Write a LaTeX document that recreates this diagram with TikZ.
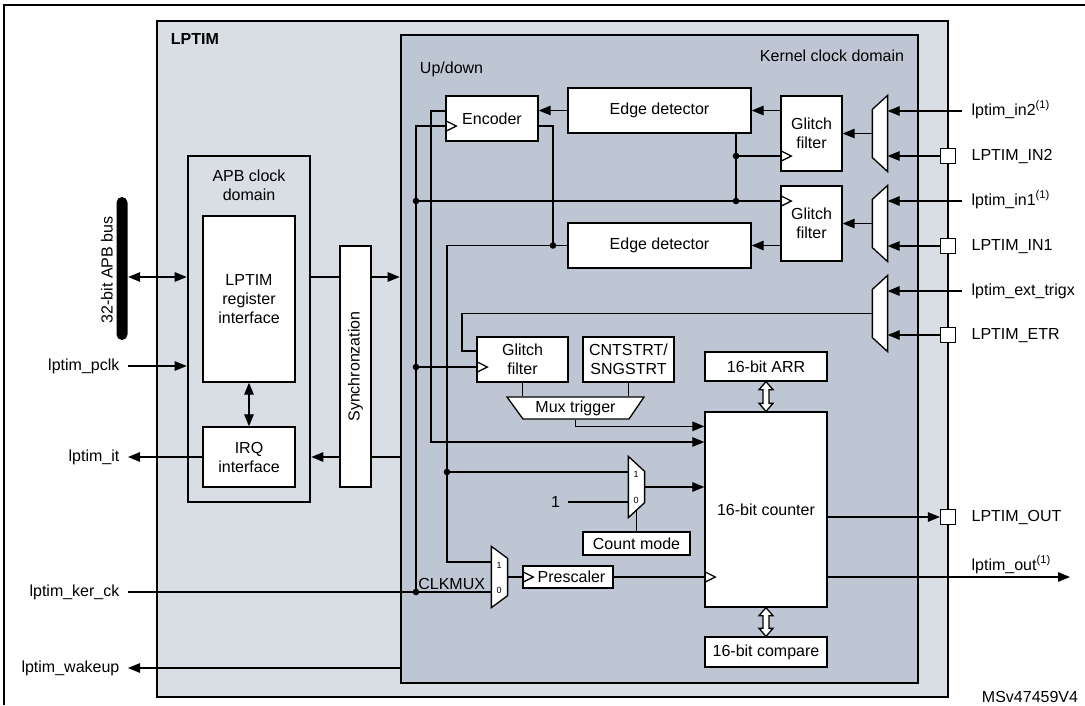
\documentclass[tikz,border=0pt]{standalone}
\usepackage{fontspec}
\setmainfont{Liberation Sans}
\usetikzlibrary{arrows.meta,calc}

\definecolor{lptimfill}{RGB}{217,221,228}
\definecolor{kernfill}{RGB}{191,198,211}

\newcommand\clk[1]{\draw (#1) ++(0,5.5) -- ++(11,-5.5) -- ++(-11,-5.5);}
\newcommand\junc[1]{\fill (#1) circle[radius=3.3pt];}
\newcommand\bigarrow[2]{\draw[line width=1.3pt, fill=white] (#1) -- ++(7,8) -- ++(-4,0) -- ($(#2)+(3,-8)$) -- ++(4,0) -- (#2) -- ++(-7,-8) -- ++(4,0) -- ($(#1)+(-3,8)$) -- ++(-4,0) -- cycle;}

\begin{document}
\begin{tikzpicture}
  [x=1pt,y=-1pt,line width=1.25pt,font=\fontsize{16}{19}\selectfont,
   blk/.style={draw, fill=white, line width=1.3pt, inner sep=0pt, align=center},
   area/.style={draw, line width=2.6pt, inner sep=0pt},
   pad/.style={draw, fill=white, line width=1.3pt, minimum size=15, inner sep=0pt},
   muxbox/.style={inner sep=0pt, minimum width=15},
   sig/.style={inner sep=0pt, text height=11pt, text depth=3pt},
   tiny/.style={font=\fontsize{9}{10}\selectfont, inner sep=0pt},
   arr/.style={-{Triangle[length=12pt,width=9.5pt]}},
   darr/.style={{Triangle[length=12pt,width=9.5pt]}-{Triangle[length=12pt,width=9.5pt]}}]
  \useasboundingbox (0,0) rectangle (1085,705);
  \draw[line width=2.6pt] (4,705) -- (4,5) -- (1085,5);

  % domains
  \node[area, fill=lptimfill, minimum width=791, minimum height=676] (lptim) at (552.5,359) {};
  \node[anchor=west, font=\fontsize{16}{19}\selectfont\bfseries] (lptimlbl) at (167,39) {LPTIM};
  \node[area, fill=kernfill, minimum width=517, minimum height=648] (kern) at (659.5,359) {};
  \node[anchor=east] (kernlbl) at (908,56) {Kernel clock domain};
  \node[anchor=west] (udlbl) at (416,69) {Up/down};
  \node[area, fill=lptimfill, minimum width=122, minimum height=346] (apb) at (249,329) {};
  \node[align=center] (apblbl) at (249,185) {APB clock\\domain};

  % APB side
  \node[blk, minimum width=92, minimum height=166] (reg) at (249,299) {LPTIM\\register\\interface};
  \node[blk, minimum width=92, minimum height=60] (irq) at (249,457) {IRQ\\interface};
  \node[blk, minimum width=31, minimum height=241] (sync) at (355.5,366.5) {};
  \node[rotate=90] (synclbl) at (sync.center) {Synchronzation};
  \node[fill=black, rounded corners=5.5pt, minimum width=11, minimum height=143, inner sep=0pt] (bus) at (122,268.5) {};
  \node[rotate=90] (buslbl) at (107,270) {32-bit APB bus};

  \node[sig, anchor=east] (pclk) at (120,366) {lptim\_pclk};
  \node[sig, anchor=east] (it) at (120,457) {lptim\_it};
  \node[sig, anchor=east] (kerck) at (120,592) {lptim\_ker\_ck};
  \node[sig, anchor=east] (wake) at (120,668) {lptim\_wakeup};

  % kernel blocks
  \node[blk, minimum width=92, minimum height=45] (enc) at (492,118.5) {Encoder};
  \node[blk, minimum width=183, minimum height=45] (ed1) at (659.5,110.5) {Edge detector};
  \node[blk, minimum width=183, minimum height=45] (ed2) at (659.5,245.5) {Edge detector};
  \node[blk, minimum width=61, minimum height=75] (gf1) at (811.5,133.5) {Glitch\\filter};
  \node[blk, minimum width=61, minimum height=75] (gf2) at (811.5,223.5) {Glitch\\filter};
  \node[blk, minimum width=91, minimum height=45] (gf3) at (522.5,359.5) {Glitch\\filter};
  \node[blk, minimum width=91, minimum height=45] (sst) at (628.5,359.5) {CNTSTRT/\\SNGSTRT};
  \draw[line width=1.3pt, fill=white] (507,397) -- (644,397) -- (629,419) -- (523,419) -- cycle;
  \node[minimum width=137, minimum height=22, inner sep=0pt] (mtr) at (575.5,408) {Mux trigger};
  \node[blk, minimum width=122, minimum height=29] (arrreg) at (766,366.5) {16-bit ARR};
  \node[blk, minimum width=122, minimum height=195] (cnt) at (766,509.5) {16-bit counter};
  \node[blk, minimum width=122, minimum height=30] (cmp) at (766,652) {16-bit compare};
  \node[blk, minimum width=107, minimum height=23] (cmode) at (636.5,543.5) {Count mode};
  \node[blk, minimum width=90, minimum height=22] (pre) at (568,577) {\hspace{7pt}Prescaler};

  % muxes
  \node[muxbox, minimum width=14, minimum height=75] (mx1) at (880,133.5) {};
  \node[muxbox, minimum width=14, minimum height=75] (mx2) at (880,223.5) {};
  \node[muxbox, minimum width=14, minimum height=75] (mx3) at (880,313.5) {};
  \node[muxbox, minimum height=60] (cmx) at (636.5,487) {};
  \node[muxbox, minimum height=60] (kmx) at (499.5,577) {};
  \foreach \m in {mx1,mx2,mx3}
    \draw[line width=1.3pt, fill=white] (\m.north east) -- (\m.south east) -- ([yshift=14pt]\m.south west) -- ([yshift=-14pt]\m.north west) -- cycle;
  \foreach \m/\d in {cmx/15,kmx/12}
    \draw[line width=1.3pt, fill=white] (\m.north west) -- (\m.south west) -- ([yshift=\d pt]\m.south east) -- ([yshift=-\d pt]\m.north east) -- cycle;
  \node[tiny] (cmx1) at (636,474) {1};
  \node[tiny] (cmx0) at (636,500) {0};
  \node[tiny] (kmx1) at (499,565) {1};
  \node[tiny] (kmx0) at (499,590) {0};
  \node[anchor=base east] (clkmux) at (489,589) {CLKMUX};
  \node[anchor=east] (one) at (564,502) {1};

  % pins
  \node[pad] (in2p) at (948,156) {};
  \node[pad] (in1p) at (948,246) {};
  \node[pad] (etrp) at (948,335) {};
  \node[pad] (outp) at (948,517) {};
  \node[sig, anchor=west] (in2) at (971,111) {lptim\_in2\textsuperscript{(1)}};
  \node[sig, anchor=west] (in2lbl) at (971,156) {LPTIM\_IN2};
  \node[sig, anchor=west] (in1) at (971,201) {lptim\_in1\textsuperscript{(1)}};
  \node[sig, anchor=west] (in1lbl) at (971,246) {LPTIM\_IN1};
  \node[sig, anchor=west] (trg) at (971,291) {lptim\_ext\_trigx};
  \node[sig, anchor=west] (etrlbl) at (971,335) {LPTIM\_ETR};
  \node[sig, anchor=west] (outlbl) at (971,517) {LPTIM\_OUT};
  \node[sig, anchor=west] (out) at (971,566) {lptim\_out\textsuperscript{(1)}};
  \node[anchor=east] (ref) at (1082,697) {MSv47459V4};

  % APB wiring
  \coordinate (busrow) at (150,277);
  \draw[darr] (bus.east |- busrow) -- (apb.west |- busrow);
  \draw (apb.east |- busrow) -- (sync.west |- busrow);
  \draw[arr] (sync.east |- busrow) -- (kern.west |- busrow);
  \draw[arr] ([xshift=8pt]pclk.east) -- (pclk.east -| apb.west);
  \draw[darr] (reg.south) -- (irq.north);
  \draw[arr] (irq.west) -- ([xshift=8pt]it.east);
  \draw (kern.west |- irq.west) -- (sync.east |- irq.west);
  \draw[arr] (sync.west |- irq.west) -- (apb.east |- irq.west);
  \draw[arr] (kern.west |- wake.east) -- ([xshift=8pt]wake.east);

  % inputs
  \foreach \s/\m in {in2/mx1,in1/mx2,trg/mx3}
    \draw[arr] ([xshift=-9pt]\s.west) -- (\s.west -| \m.east);
  \foreach \s/\m in {in2p/mx1,in1p/mx2,etrp/mx3}
    \draw[arr] (\s.west) -- (\s.west -| \m.east);
  \draw[arr] (mx1.west) -- (gf1.east);
  \draw[arr] (mx2.west) -- (gf2.east);
  \draw[arr] (ed1.east -| gf1.west) -- (ed1.east);
  \draw[arr] (ed2.east -| gf2.west) -- (ed2.east);
  \draw[arr] (ed1.west) -- (ed1.west -| enc.east);

  % clocks and counter wiring
  \coordinate (ck) at (416,592);
  \coordinate (edj1) at (736,156);
  \coordinate (edj2) at (736,201);
  \coordinate (enj) at (553,245.5);
  \coordinate (extck) at (447,472);
  \coordinate (ud) at (431,442);
  \coordinate (etr) at (462,351);
  \coordinate (encck) at ([yshift=-7.5pt]enc.west);
  \coordinate (gf1ck) at (edj1 -| gf1.west);
  \coordinate (gf2ck) at (edj2 -| gf2.west);
  \coordinate (gf3ck) at ([yshift=-7.5pt]gf3.west);
  \coordinate (cntck) at (pre.east -| cnt.west);
  \coordinate (outend) at (1070,577);

  \draw ([xshift=8pt]kerck.east) -- (ck -| kmx.west);
  \draw (ck) |- (encck);
  \draw (ck |- edj2) -- (gf2ck);
  \draw (ck |- gf3ck) -- (gf3ck);
  \draw (ed1.south -| edj1) -- (edj2);
  \draw (edj1) -- (gf1ck);
  \draw ([yshift=-7.5pt]enc.east) -| (enj);
  \draw (ed2.west) -| (extck) |- ([yshift=15pt]kmx.west);
  \draw (extck) -- (extck -| cmx.west);
  \draw[arr] ([yshift=7.5pt]enc.west) -| (ud) -- (ud -| cnt.west);
  \draw (mx3.west) -| (etr) -- (etr -| gf3.west);
  \draw (gf3.south) -- (gf3.south |- mtr.north);
  \draw (sst.south) -- (sst.south |- mtr.north);
  \draw[arr] (mtr.south) |- ([yshift=-15pt]cnt.north west);
  \draw[arr] (cmx.east) -- (cmx.east -| cnt.west);
  \draw ([xshift=4pt]one.east) -- (one.east -| cmx.west);
  \draw (cmode.north) -- ++(0,-22);
  \draw (kmx.east) -- (pre.west);
  \draw (pre.east) -- (cntck);
  \draw[arr] (outp.west -| cnt.east) -- (outp.west);
  \draw[arr] (pre.east -| cnt.east) -- (outend);

  \bigarrow{arrreg.south}{cnt.north}
  \bigarrow{cnt.south}{cmp.north}
  \foreach \c in {encck,gf1ck,gf2ck,gf3ck,cntck,pre.west}
    {\clk{\c}}
  \foreach \j in {ck,edj1,edj2,enj,extck}
    {\junc{\j}}
  \junc{ck |- edj2}
  \junc{ck |- gf3ck}
\end{tikzpicture}
\end{document}
